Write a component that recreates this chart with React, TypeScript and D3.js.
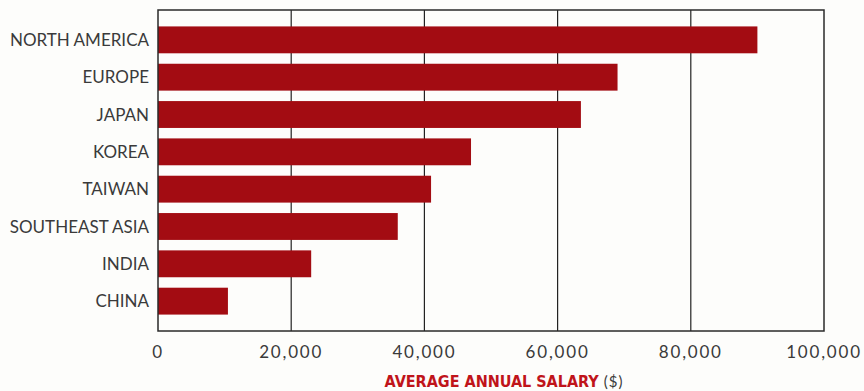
import React from "react";
import * as d3 from "d3";

const regions = ["NORTH AMERICA", "EUROPE", "JAPAN", "KOREA", "TAIWAN", "SOUTHEAST ASIA", "INDIA", "CHINA"];
const salaries = [90000, 69000, 63500, 47000, 41000, 36000, 23000, 10500];
const xTicks = [0, 20000, 40000, 60000, 80000, 100000];
const xTitle = "AVERAGE ANNUAL SALARY";
const xUnit = "($)";

const W = 864;
const H = 391;
const left = 158;
const right = 824;
const top = 10;
const bottom = 331;

export default function App() {
  const x = d3.scaleLinear().domain([0, 100000]).range([left, right]);
  const y = d3
    .scaleBand<string>()
    .domain(regions)
    .range([top, bottom])
    .paddingInner(0.28)
    .paddingOuter(0.44);
  const fmt = d3.format(",");
  const font = "Lato, 'DejaVu Sans', sans-serif";
  return (
    <svg
      width={W}
      height={H}
      style={{ position: "absolute", left: 0, top: 0, background: "#fdfdfb" }}
    >
      {xTicks.slice(1, -1).map((t) => (
        <line key={t} x1={x(t)} x2={x(t)} y1={top} y2={bottom} stroke="#222" strokeWidth={1.2} />
      ))}
      {regions.map((r, i) => (
        <rect
          key={r}
          x={x(0)}
          y={y(r)}
          width={x(salaries[i]) - x(0)}
          height={y.bandwidth()}
          fill="#a30c12"
        />
      ))}
      <rect
        x={left}
        y={top}
        width={right - left}
        height={bottom - top}
        fill="none"
        stroke="#2a2a2a"
        strokeWidth={1.5}
      />
      {regions.map((r) => (
        <text
          key={r}
          x={left - 9}
          y={(y(r) as number) + y.bandwidth() / 2}
          dy="0.36em"
          textAnchor="end"
          fontFamily={font}
          fontSize={17}
          fill="#3a3a3a"
        >
          {r}
        </text>
      ))}
      {xTicks.map((t) => (
        <text
          key={t}
          x={x(t)}
          y={352}
          dy="0.36em"
          textAnchor="middle"
          fontFamily={font}
          fontSize={17}
          letterSpacing={1.8}
          fill="#3a3a3a"
        >
          {fmt(t)}
        </text>
      ))}
      <text x={504} y={381} dy="0.36em" textAnchor="middle" fontFamily={font} fontSize={16}>
        <tspan fontWeight="bold" fill="#c0141a" fontFamily="'DejaVu Sans Condensed', 'Liberation Sans Narrow', sans-serif">
          {xTitle}
        </tspan>
        <tspan fill="#3a3a3a" dx={5} fontSize={15} letterSpacing={1}>
          {xUnit}
        </tspan>
      </text>
    </svg>
  );
}
